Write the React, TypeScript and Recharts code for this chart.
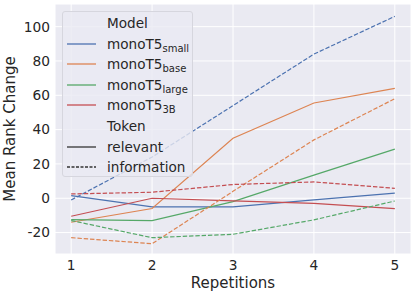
import React from "react"
import { LineChart, Line, XAxis, YAxis, CartesianGrid, Legend, Label } from "recharts"

const repetitions = [1, 2, 3, 4, 5]

// relevant = solid, information = dashed
const smallRelevant = [1.5, -5, -5, -1, 3]
const smallInformation = [-1, 24, 54, 84, 106]
const baseRelevant = [-14, -6, 35, 55.5, 64]
const baseInformation = [-23, -26.5, 4, 34, 58]
const largeRelevant = [-12.5, -13, -2, 13.5, 28.6]
const largeInformation = [-13, -23, -21, -12.6, -1.6]
const xlRelevant = [-10.5, 0, -1.5, -3, -6]
const xlInformation = [2.5, 3.5, 8, 9.5, 5.8]

const yTicks = [-20, 0, 20, 40, 60, 80, 100]

const models = [
  { key: "small", sub: "small", color: "#4C72B0", relevant: smallRelevant, information: smallInformation },
  { key: "base", sub: "base", color: "#DD8452", relevant: baseRelevant, information: baseInformation },
  { key: "large", sub: "large", color: "#55A868", relevant: largeRelevant, information: largeInformation },
  { key: "3b", sub: "3B", color: "#C44E52", relevant: xlRelevant, information: xlInformation },
]

const data = repetitions.map((r, i) => {
  const row: Record<string, number> = { rep: r }
  models.forEach((m) => {
    row[m.key + "_rel"] = m.relevant[i]
    row[m.key + "_info"] = m.information[i]
  })
  return row
})

const FONT = "DejaVu Sans"
const TEXT = "#262626"
const DASH = "4.4 1.9"

function Handle({ color, dashed }: { color?: string; dashed?: boolean }) {
  if (!color) return <div style={{ width: 29 }} />
  return (
    <svg width={29} height={4} style={{ display: "block" }}>
      <line x1={0} y1={2} x2={29} y2={2} stroke={color} strokeWidth={1.3} strokeDasharray={dashed ? "3 1.5" : undefined} />
    </svg>
  )
}

function Row({ color, dashed, children }: { color?: string; dashed?: boolean; children: React.ReactNode }) {
  return (
    <div style={{ display: "flex", alignItems: "center", height: 20.6 }}>
      <div style={{ width: 4 }} />
      <Handle color={color} dashed={dashed} />
      <div style={{ width: 11 }} />
      <span style={{ whiteSpace: "nowrap" }}>{children}</span>
    </div>
  )
}

function LegendBox() {
  return (
    <div
      style={{
        boxSizing: "border-box",
        width: 131,
        height: 166,
        paddingTop: 0.7,
        border: "1px solid #d6d6de",
        borderRadius: 3,
        background: "rgba(234,234,242,0.8)",
        fontFamily: FONT,
        fontSize: 13.6,
        color: TEXT,
      }}
    >
      <Row>Model</Row>
      {models.map((m) => (
        <Row key={m.key} color={m.color}>
          monoT5
          <span style={{ fontSize: 10, position: "relative", top: 3 }}>{m.sub}</span>
        </Row>
      ))}
      <Row>Token</Row>
      <Row color="#333">relevant</Row>
      <Row color="#333" dashed>
        information
      </Row>
    </div>
  )
}

export default function App() {
  const tick = { fill: TEXT, fontSize: 13.75, fontFamily: FONT }
  return (
    <div style={{ position: "absolute", left: 0, top: 0 }}>
      <LineChart width={415} height={294} data={data} margin={{ top: 4, right: 4, left: 0, bottom: 0 }}>
        <CartesianGrid fill="#EAEAF2" stroke="#FFFFFF" strokeWidth={1} />
        <XAxis
          dataKey="rep"
          type="number"
          domain={[0.8, 5.2]}
          ticks={repetitions}
          height={40}
          axisLine={false}
          tickLine={false}
          tickSize={0}
          tickMargin={6}
          tick={tick}
        >
          <Label value="Repetitions" position="insideBottom" offset={6} style={{ fill: TEXT, fontSize: 15, fontFamily: FONT }} />
        </XAxis>
        <YAxis
          type="number"
          domain={[-32.5, 113.2]}
          ticks={yTicks}
          width={55}
          axisLine={false}
          tickLine={false}
          tickSize={0}
          tickMargin={5}
          tick={tick}
        >
          <Label
            value="Mean Rank Change"
            angle={-90}
            position="insideLeft"
            offset={10}
            style={{ fill: TEXT, fontSize: 15, fontFamily: FONT, textAnchor: "middle" }}
          />
        </YAxis>
        {models.map((m) => (
          <Line
            key={m.key + "_rel"}
            dataKey={m.key + "_rel"}
            type="linear"
            stroke={m.color}
            strokeWidth={1.2}
            dot={false}
            isAnimationActive={false}
          />
        ))}
        {models.map((m) => (
          <Line
            key={m.key + "_info"}
            dataKey={m.key + "_info"}
            type="linear"
            stroke={m.color}
            strokeWidth={1.2}
            strokeDasharray={DASH}
            dot={false}
            isAnimationActive={false}
          />
        ))}
        <Legend
          layout="vertical"
          align="center"
          verticalAlign="middle"
          content={() => <LegendBox />}
          wrapperStyle={{ left: 62, top: 11, width: 131, height: 166 }}
        />
      </LineChart>
    </div>
  )
}
